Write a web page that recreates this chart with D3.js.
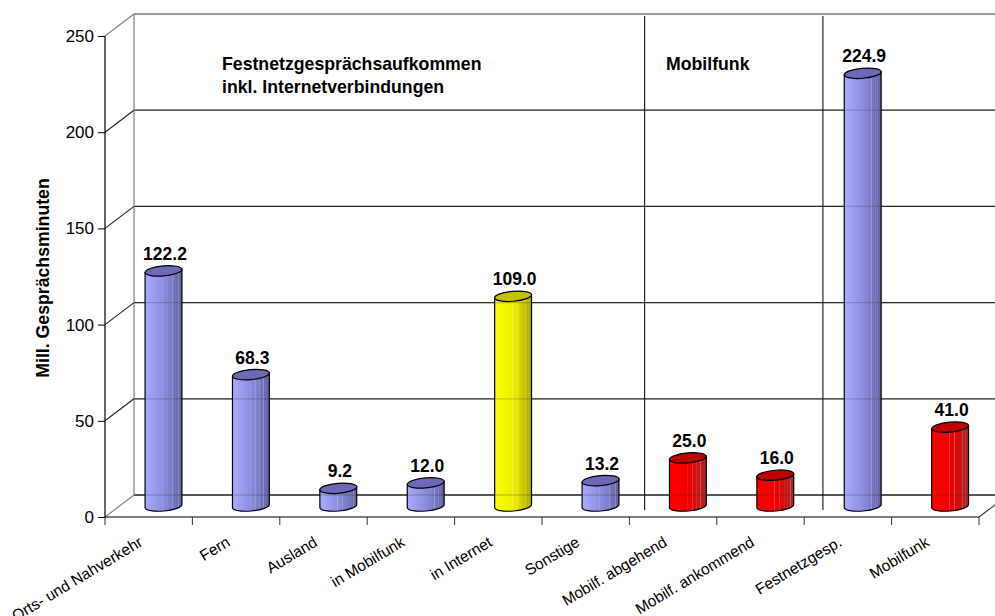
<!DOCTYPE html>
<html>
<head>
<meta charset="utf-8">
<script src="https://cdn.jsdelivr.net/npm/d3@7"></script>
<style>
    html, body { margin: 0; padding: 0; background: white; }
    svg { display: block; font-family: "Liberation Sans", Arial, sans-serif; }
</style>
</head>
<body>
<div id="chart"></div>
<script>
const categories = ["Orts- und Nahverkehr", "Fern", "Ausland", "in Mobilfunk", "in Internet", "Sonstige", "Mobilf. abgehend", "Mobilf. ankommend", "Festnetzgesp.", "Mobilfunk"];
const values = [122.2, 68.3, 9.2, 12.0, 109.0, 13.2, 25.0, 16.0, 224.9, 41.0];
const groups = ["blue", "blue", "blue", "blue", "yellow", "blue", "red", "red", "blue", "red"];
const yTicks = [0, 50, 100, 150, 200, 250];

function drawChart() {
    const width = 995, height = 616;

    // fake 3d: back wall is shifted from the front axis by this much
    const depth = {x: 29, y: -22};
    const barShift = {x: 14.8, y: -11};
    const rx = 18.5, ry = 5, tilt = -5;

    const x = d3.scaleBand().domain(categories).range([105, 979]);
    const y = d3.scaleLinear().domain([0, 250]).range([517, 36]);

    const colors = {
        blue: {top: "#6a6ab8", ramp: ["#aaaaff", "#8a8adc", "#62629f"]},
        yellow: {top: "#c4c400", ramp: ["#ffff00", "#ecec00", "#a8a800"]},
        red: {top: "#c00000", ramp: ["#ff0000", "#ee0000", "#a02828"]}
    };
    const stripes = [0.48, 0.62, 0.74, 0.84, 0.91];

    const svg = d3.select("#chart").append("svg")
        .attr("width", width)
        .attr("height", height)
        .attr("viewBox", "0 0 " + width + " " + height);

    const defs = svg.append("defs");
    Object.keys(colors).forEach(function (k) {
        const ramp = d3.scaleLinear().domain([0, 0.55, 1]).range(colors[k].ramp);
        let stops = [[0, ramp(0)]];
        stripes.forEach(function (s) {
            stops.push([s - 0.012, ramp(s - 0.012)]);
            stops.push([s, d3.interpolateRgb(ramp(s), "#fff")(0.28)]);
            stops.push([s + 0.012, ramp(s + 0.012)]);
        });
        stops.push([1, ramp(1)]);
        defs.append("linearGradient")
            .attr("id", "grad_" + k)
            .selectAll("stop")
            .data(stops)
            .enter()
            .append("stop")
            .attr("offset", function (d) { return d[0]; })
            .attr("stop-color", function (d) { return d[1]; });
    });

    // back wall
    function drawGrid(parent, opacity) {
        parent.append("g")
            .selectAll("line")
            .data(yTicks)
            .enter()
            .append("line")
            .attr("x1", 105 + depth.x)
            .attr("x2", width)
            .attr("y1", function (d) { return y(d) + depth.y; })
            .attr("y2", function (d) { return y(d) + depth.y; })
            .attr("stroke", function (d) { return d === 250 ? "#808080" : "#2a2a2a"; })
            .attr("stroke-width", function (d) { return d === 250 || d === 0 ? 1.6 : 1.2; })
            .attr("opacity", opacity);
    }
    drawGrid(svg, 1);

    svg.append("line")
        .attr("x1", 105 + depth.x).attr("x2", 105 + depth.x)
        .attr("y1", y(250) + depth.y).attr("y2", y(0) + depth.y)
        .attr("stroke", "#8c8c8c").attr("stroke-width", 1.3);

    // side wall diagonals
    svg.append("g").selectAll("line")
        .data(yTicks)
        .enter()
        .append("line")
        .attr("x1", 105).attr("x2", 105 + depth.x)
        .attr("y1", function (d) { return y(d); })
        .attr("y2", function (d) { return y(d) + depth.y; })
        .attr("stroke", function (d) { return d === 250 || d === 0 ? "#808080" : "#222"; })
        .attr("stroke-width", 1.1);

    // floor, right edge
    svg.append("line")
        .attr("x1", 979).attr("x2", 979 + depth.x)
        .attr("y1", y(0)).attr("y2", y(0) + depth.y)
        .attr("stroke", "#333").attr("stroke-width", 1.1);

    // section separators, drawn by hand in the original so not quite on the band edges
    const separators = [{after: "Sonstige", off: 15.2}, {after: "Mobilf. ankommend", off: 18.7}];
    svg.append("g").selectAll("line")
        .data(separators)
        .enter()
        .append("line")
        .attr("x1", function (d) { return x(d.after) + x.bandwidth() + d.off; })
        .attr("x2", function (d) { return x(d.after) + x.bandwidth() + d.off; })
        .attr("y1", 16)
        .attr("y2", 510)
        .attr("stroke", "#111")
        .attr("stroke-width", 1.1);

    // cylinders
    const rad = tilt * Math.PI / 180;
    const ex = rx * Math.cos(rad), ey = rx * Math.sin(rad);

    const bars = svg.append("g").selectAll("g")
        .data(categories)
        .enter()
        .append("g")
        .attr("transform", function (d) {
            return "translate(" + (x(d) + x.bandwidth() / 2 + barShift.x) + ",0)";
        });

    bars.append("path")
        .attr("d", function (d, i) {
            const top = y(values[i]) + barShift.y;
            const bottom = y(0) + barShift.y;
            return "M" + (-ex) + "," + (top - ey)
                + "L" + (-ex) + "," + (bottom - ey)
                + "A" + rx + "," + ry + " " + tilt + " 0 0 " + ex + "," + (bottom + ey)
                + "L" + ex + "," + (top + ey) + "Z";
        })
        .attr("fill", function (d, i) { return "url(#grad_" + groups[i] + ")"; })
        .attr("stroke", "#000")
        .attr("stroke-width", 1.2);

    bars.append("ellipse")
        .attr("rx", rx)
        .attr("ry", ry)
        .attr("transform", function (d, i) {
            return "translate(0," + (y(values[i]) + barShift.y) + ") rotate(" + tilt + ")";
        })
        .attr("fill", function (d, i) { return colors[groups[i]].top; })
        .attr("stroke", "#000")
        .attr("stroke-width", 1.2);

    // grid shows faintly through the bars
    drawGrid(svg, 0.22);

    bars.append("text")
        .attr("x", 1.5)
        .attr("y", function (d, i) { return y(values[i]) + barShift.y - 11; })
        .attr("text-anchor", "middle")
        .attr("font-size", 17.5)
        .attr("font-weight", "bold")
        .attr("fill", "#000")
        .text(function (d, i) { return values[i].toFixed(1); });

    // front axes
    svg.append("line")
        .attr("x1", 105).attr("x2", 105)
        .attr("y1", y(250)).attr("y2", y(0))
        .attr("stroke", "#000").attr("stroke-width", 1.2);

    const yAxis = svg.append("g")
        .attr("transform", "translate(105,0)")
        .call(d3.axisLeft(y).tickValues(yTicks).tickSize(7).tickPadding(4));
    yAxis.select(".domain").remove();
    yAxis.selectAll("text")
        .attr("font-family", "Liberation Sans")
        .attr("font-size", 17)
        .attr("fill", "#000");

    // ticks sit on band edges, labels in the band
    const xEdges = categories.map(function (d) { return x(d); }).concat([979]);
    svg.append("line")
        .attr("x1", 105).attr("x2", 979)
        .attr("y1", y(0)).attr("y2", y(0))
        .attr("stroke", "#000").attr("stroke-width", 1.2);
    svg.append("g").selectAll("line")
        .data(xEdges)
        .enter()
        .append("line")
        .attr("x1", function (d) { return d; })
        .attr("x2", function (d) { return d; })
        .attr("y1", y(0))
        .attr("y2", y(0) + 8)
        .attr("stroke", "#333");

    svg.append("g").selectAll("text")
        .data(categories)
        .enter()
        .append("text")
        .attr("transform", function (d) {
            return "translate(" + (x(d) + x.bandwidth() / 2 - 5) + ",545) rotate(-31)";
        })
        .attr("text-anchor", "end")
        .attr("font-size", 15.5)
        .attr("fill", "#000")
        .text(function (d) { return d; });

    svg.append("text")
        .attr("transform", "translate(49,278) rotate(-90)")
        .attr("text-anchor", "middle")
        .attr("font-size", 17.7)
        .attr("font-weight", "bold")
        .text("Mill. Gesprächsminuten");

    // section titles
    const notes = svg.append("g").attr("font-size", 17.7).attr("font-weight", "bold");
    notes.append("text").attr("x", 222).attr("y", 70).text("Festnetzgesprächsaufkommen");
    notes.append("text").attr("x", 222).attr("y", 93).text("inkl. Internetverbindungen");
    notes.append("text").attr("x", 666).attr("y", 70).text("Mobilfunk");
}
drawChart();
</script>
</body>
</html>
